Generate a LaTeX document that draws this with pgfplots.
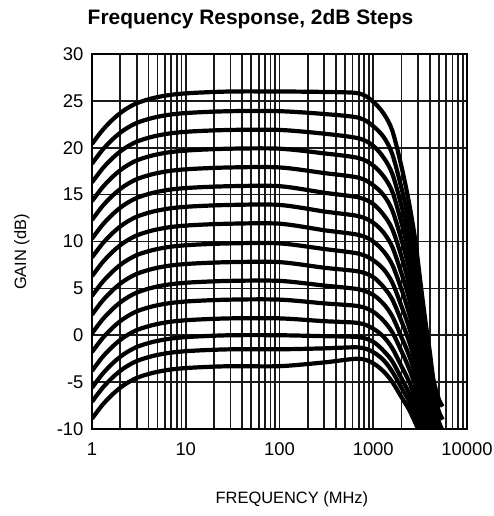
\documentclass[border=0pt]{standalone}
\usepackage{fontspec}
\setmainfont{Liberation Sans}
\usepackage{pgfplots}
\pgfplotsset{compat=1.18}

\begin{document}
\begin{tikzpicture}
\useasboundingbox (-92bp,-87bp) rectangle (402bp,429bp);
\begin{axis}[
    at={(0,0)}, anchor=south west,
    scale only axis, width=375bp, height=375bp,
    xmode=log, xmin=1, xmax=10000,
    ymin=-10, ymax=30,
    xtick={1,10,100,1000,10000}, xticklabels={1,10,100,1000,10000},
    ytick={-10,-5,...,30},
    grid=both,
    major grid style={draw=black!90, line width=1.7bp},
    minor grid style={draw=black!90, line width=1.7bp},
    axis line style={line width=2.2bp},
    major tick length=0pt, minor tick length=0pt,
    /pgf/number format/assume math mode=true,
    tick label style={font=\fontsize{18.5}{20}\selectfont},
    xticklabel style={yshift=-10bp},
    yticklabel style={xshift=-5bp},
    title={Frequency Response, 2dB Steps},
    title style={font=\fontsize{21}{24}\selectfont\bfseries,
        at={(axis description cs:0.4227,1)}, anchor=base, yshift=24bp},
    xlabel={FREQUENCY (MHz)}, ylabel={GAIN (dB)},
    label style={font=\fontsize{16.5}{18}\selectfont},
    xlabel style={at={(axis description cs:0.533,-0.187)}, anchor=center},
    ylabel style={at={(axis description cs:-0.187,0.472)}, anchor=center},
    cycle list={{black, solid}},
    every axis plot/.append style={line width=4.2bp, line join=round, no marks, smooth, tension=0.5},
]
% top: 26 dB
\addplot coordinates {(1,20.4) (1.3,21.9) (1.7,23.1) (2.2,24.0) (3,24.75) (4.5,25.3) (7,25.65) (12,25.85) (30,26.0) (100,26.0) (300,25.95) (700,25.8) (1000,24.9) (1300,23.6) (1600,21.8) (2000,18.0) (2400,14.2) (2800,10.2) (3200,5.5) (3600,1.5) (4000,-1.7) (4400,-4.8) (5000,-6.8) (5500,-7.6)};
\addplot coordinates {(1,18.3) (1.3,19.8) (1.7,21.0) (2.2,21.9) (3,22.65) (4.5,23.2) (7,23.55) (12,23.75) (30,23.9) (100,23.9) (300,23.6) (700,23.2) (1000,22.3) (1300,21.1) (1600,19.3) (2000,15.7) (2400,12.2) (2800,8.4) (3200,4.0) (3600,0.1) (4000,-3.0) (4400,-6.1) (5000,-8.1) (5500,-9.0)};
\addplot coordinates {(1,16.3) (1.3,17.8) (1.7,19.0) (2.2,19.9) (3,20.65) (4.5,21.2) (7,21.55) (12,21.75) (30,21.9) (100,21.9) (300,21.5) (700,21.0) (1000,20.2) (1300,18.9) (1600,17.2) (2000,13.8) (2400,10.4) (2800,6.9) (3200,2.6) (3600,-1.0) (4000,-4.1) (4400,-7.1) (5000,-9.2) (5500,-10.2)};
\addplot coordinates {(1,14.3) (1.3,15.8) (1.7,17.0) (2.2,17.9) (3,18.65) (4.5,19.2) (7,19.55) (12,19.75) (30,19.9) (100,19.9) (300,19.4) (700,18.9) (1000,18.1) (1300,16.9) (1600,15.3) (2000,12.0) (2400,8.8) (2800,5.4) (3200,1.4) (3600,-2.2) (4000,-5.2) (4400,-8.1) (5000,-10.3)};
\addplot coordinates {(1,12.3) (1.3,13.8) (1.7,15.0) (2.2,15.9) (3,16.65) (4.5,17.2) (7,17.55) (12,17.75) (30,17.9) (100,17.9) (300,17.3) (700,16.8) (1000,16.0) (1300,14.9) (1600,13.3) (2000,10.2) (2400,7.2) (2800,4.0) (3200,0.2) (3600,-3.3) (4000,-6.3) (4400,-9.2) (5000,-11.3)};
\addplot coordinates {(1,10.3) (1.3,11.8) (1.7,13.0) (2.2,13.9) (3,14.65) (4.5,15.2) (7,15.55) (12,15.75) (30,15.9) (100,15.9) (300,15.2) (700,14.7) (1000,14.0) (1300,12.8) (1600,11.3) (2000,8.4) (2400,5.5) (2800,2.6) (3200,-1.1) (3600,-4.4) (4000,-7.3) (4400,-10.2)};
\addplot coordinates {(1,8.3) (1.3,9.8) (1.7,11.0) (2.2,11.9) (3,12.65) (4.5,13.2) (7,13.55) (12,13.75) (30,13.9) (100,13.9) (300,13.2) (700,12.7) (1000,12.0) (1300,10.9) (1600,9.4) (2000,6.6) (2400,4.0) (2800,1.2) (3200,-2.3) (3600,-5.4) (4000,-8.3) (4400,-11.1)};
\addplot coordinates {(1,6.3) (1.3,7.8) (1.7,9.0) (2.2,9.9) (3,10.65) (4.5,11.2) (7,11.55) (12,11.75) (30,11.9) (100,11.9) (300,11.2) (700,10.7) (1000,10.0) (1300,8.9) (1600,7.5) (2000,4.9) (2400,2.4) (2800,-0.2) (3200,-3.5) (3600,-6.5) (4000,-9.3) (4400,-12.1)};
\addplot coordinates {(1,4.2) (1.3,5.7) (1.7,6.9) (2.2,7.8) (3,8.55) (4.5,9.1) (7,9.45) (12,9.65) (30,9.8) (100,9.8) (300,9.2) (700,8.7) (1000,8.0) (1300,7.0) (1600,5.6) (2000,3.1) (2400,0.9) (2800,-1.6) (3200,-4.7) (3600,-7.6) (4000,-10.3)};
\addplot coordinates {(1,2.2) (1.3,3.7) (1.7,4.9) (2.2,5.8) (3,6.55) (4.5,7.1) (7,7.45) (12,7.65) (30,7.8) (100,7.8) (300,7.2) (700,6.8) (1000,6.2) (1300,5.1) (1600,3.8) (2000,1.5) (2400,-0.6) (2800,-2.9) (3200,-5.8) (3600,-8.6) (4000,-11.3)};
\addplot coordinates {(1,0.2) (1.3,1.7) (1.7,2.9) (2.2,3.8) (3,4.55) (4.5,5.1) (7,5.45) (12,5.65) (30,5.8) (100,5.8) (300,5.3) (700,4.9) (1000,4.3) (1300,3.3) (1600,2.0) (2000,-0.2) (2400,-2.1) (2800,-4.2) (3200,-6.9) (3600,-9.6) (4000,-12.3)};
\addplot coordinates {(1,-1.8) (1.3,-0.3) (1.7,0.9) (2.2,1.8) (3,2.55) (4.5,3.1) (7,3.45) (12,3.65) (30,3.8) (100,3.8) (300,3.4) (700,3.1) (1000,2.5) (1300,1.5) (1600,0.3) (2000,-1.7) (2400,-3.5) (2800,-5.4) (3200,-8.0) (3600,-10.5)};
\addplot coordinates {(1,-3.8) (1.3,-2.3) (1.7,-1.1) (2.2,-0.2) (3,0.55) (4.5,1.1) (7,1.45) (12,1.65) (30,1.8) (100,1.8) (300,1.5) (700,1.3) (1000,0.7) (1300,-0.2) (1600,-1.4) (2000,-3.3) (2400,-4.9) (2800,-6.7) (3200,-9.0) (3600,-11.5)};
\addplot coordinates {(1,-5.6) (1.3,-4.1) (1.7,-2.9) (2.2,-2.0) (3,-1.25) (4.5,-0.7) (7,-0.35) (12,-0.15) (30,0.0) (100,0.0) (300,-0.1) (700,-0.2) (1000,-0.7) (1300,-1.7) (1600,-2.8) (2000,-4.6) (2400,-6.1) (2800,-7.7) (3200,-9.9) (3600,-12.3)};
\addplot coordinates {(1,-7.1) (1.3,-5.6) (1.7,-4.4) (2.2,-3.5) (3,-2.75) (4.5,-2.2) (7,-1.85) (12,-1.65) (30,-1.5) (100,-1.5) (300,-1.4) (700,-1.3) (1000,-1.8) (1300,-2.7) (1600,-3.9) (2000,-5.6) (2400,-7.0) (2800,-8.5) (3200,-10.6)};
% bottom: about -3 dB
\addplot coordinates {(1,-8.9) (1.3,-7.4) (1.7,-6.2) (2.2,-5.3) (3,-4.55) (4.5,-4.0) (7,-3.65) (12,-3.45) (30,-3.3) (100,-3.3) (300,-2.9) (700,-2.5) (1000,-3.0) (1300,-3.9) (1600,-5.0) (2000,-6.6) (2400,-7.9) (2800,-9.3) (3000,-10.0) (3200,-11.3)};
\end{axis}
\end{tikzpicture}
\end{document}
